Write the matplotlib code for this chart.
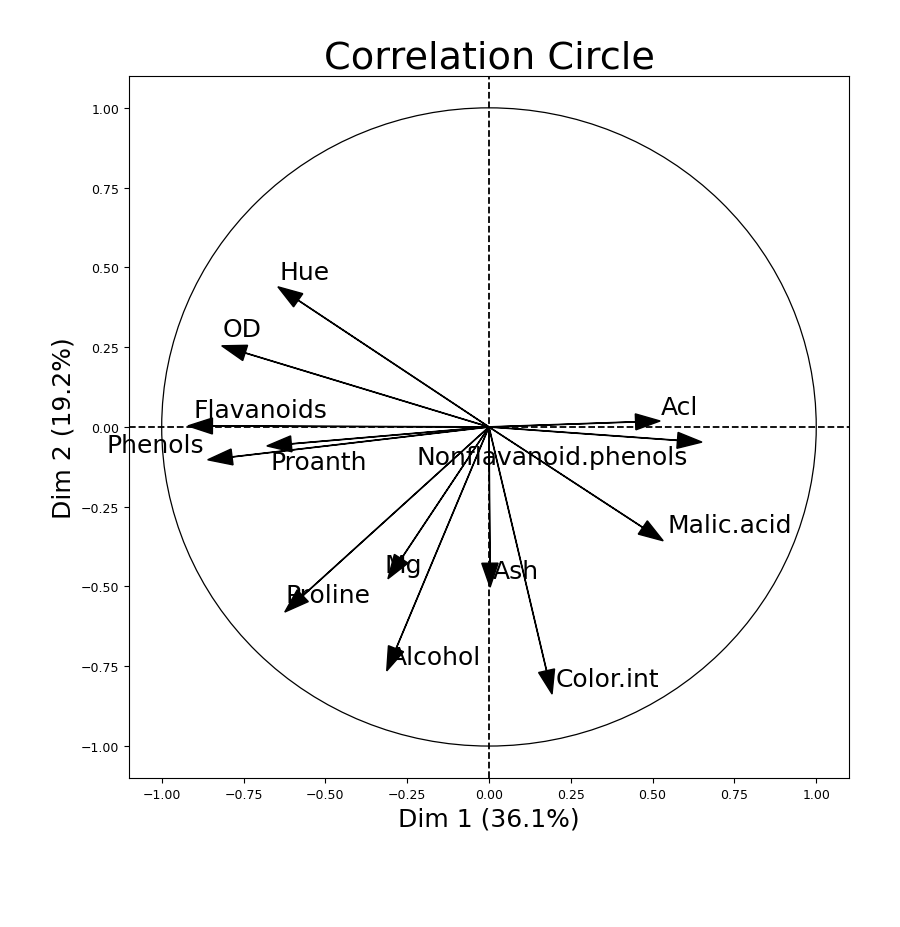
import numpy as np
import matplotlib
matplotlib.use("Agg")
import matplotlib.pyplot as plt

# loadings on the first two dimensions
variables = ["Alcohol", "Malic.acid", "Ash", "Acl", "Mg", "Phenols", "Flavanoids",
             "Nonflavanoid.phenols", "Proanth", "Color.int", "Hue", "OD", "Proline"]
dim1 = [-0.284, 0.470, 0.003, 0.448, -0.268, -0.785, -0.845,
        0.576, -0.604, 0.176, -0.583, -0.745, -0.569]
dim2 = [-0.695, -0.315, -0.427, 0.016, -0.413, -0.094, 0.003,
        -0.042, -0.053, -0.764, 0.397, 0.232, -0.529]

# where each name ended up
label_x = [-0.303, 0.544, 0.013, 0.526, -0.318, -1.168, -0.902,
           -0.220, -0.667, 0.205, -0.639, -0.813, -0.621]
label_y = [-0.743, -0.329, -0.473, 0.041, -0.455, -0.078, 0.031,
           -0.116, -0.132, -0.812, 0.464, 0.285, -0.549]

pct1, pct2 = 36.1, 19.2

fig = plt.figure(figsize=(9, 9.28), dpi=100)
ax = fig.add_axes([0.1433, 0.1606, 0.80, 0.7565])

for i in range(len(variables)):
    ax.arrow(0, 0, dim1[i], dim2[i], head_width=0.05, head_length=0.075,
             color="black", lw=1)
    ax.text(label_x[i], label_y[i], variables[i], fontsize=18)

circle = plt.Circle((0, 0), 1, facecolor="none", edgecolor="black", lw=0.9)
ax.add_patch(circle)

ax.axhline(0, color="black", linestyle="--", lw=1.3)
ax.axvline(0, color="black", linestyle="--", lw=1.3)

ax.set_xlim(-1.1, 1.1)
ax.set_ylim(-1.1, 1.1)
ticks = np.arange(-1, 1.01, 0.25)
ax.set_xticks(ticks)
ax.set_yticks(ticks)
ax.tick_params(labelsize=9)

ax.set_xlabel(f"Dim 1 ({pct1}%)", fontsize=18)
ax.set_ylabel(f"Dim 2 ({pct2}%)", fontsize=18)
ax.set_title("Correlation Circle", fontsize=27.5, pad=4)

fig.savefig("out.png", dpi=100)
